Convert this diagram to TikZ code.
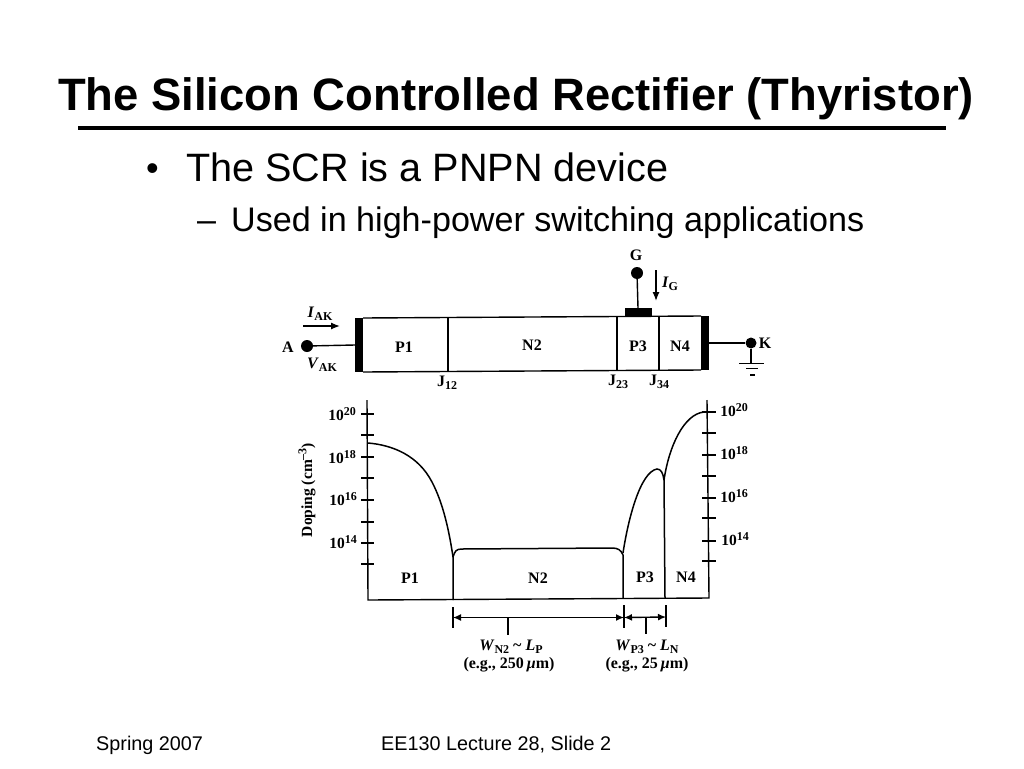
\documentclass[tikz,border=0pt]{standalone}
\usepackage{fontspec}
\setmainfont{Liberation Sans}
\newfontfamily\figfont{Liberation Serif}
\usetikzlibrary{arrows.meta}
\newcommand{\lowtxt}[1]{\raisebox{-0.45ex}{\fontsize{12}{13}\selectfont #1}}
\newcommand{\hightxt}[1]{\raisebox{0.8ex}{\fontsize{12}{13}\selectfont #1}}
\newcommand{\tenpow}[1]{10\hightxt{#1}}
\tikzset{
  titletext/.style={anchor=base,inner sep=0pt,font=\fontsize{45.4}{48}\selectfont\bfseries},
  bodytext/.style={anchor=base west,inner sep=0pt,font=\fontsize{39.6}{42}\selectfont},
  subtext/.style={anchor=base west,inner sep=0pt,font=\fontsize{34.1}{36}\selectfont},
  foottext/.style={anchor=base west,inner sep=0pt,font=\fontsize{19.8}{24}\selectfont},
  figtext/.style={inner sep=0pt,font=\figfont\bfseries\fontsize{16}{18}\selectfont},
  figsmall/.style={inner sep=0pt,font=\figfont\bfseries\fontsize{15.5}{18}\selectfont},
  fig/.style={line width=1.4pt,black},
  thin fig/.style={line width=1.1pt,black},
  curve/.style={line width=1.5pt,black},
  terminal/.style={circle,fill=black,inner sep=0pt,minimum size=12pt},
  sbar/.style={fill=black,draw=none},
  flow/.style={line width=1.3pt,-{Latex[length=9pt,width=7pt]}},
  dimline/.style={line width=1.4pt,{Latex[length=8pt,width=7pt]}-{Latex[length=8pt,width=7pt]}},
}
\begin{document}
\begin{tikzpicture}[x=1pt,y=-1pt]
\useasboundingbox (0,0) rectangle (1024,768);
% --- slide text
\node[titletext] (title) at (516,110) {The Silicon Controlled Rectifier (Thyristor)};
\coordinate (ruleL) at (78,128); \coordinate (ruleR) at (946,128);
\draw[line width=4.5pt] (ruleL) -- (ruleR);
\node[bodytext,font=\fontsize{36}{38}\selectfont] (bullet) at (146,180) {•};
\node[bodytext] (b1) at (186,181) {The SCR is a PNPN device};
\node[subtext] (dash) at (197,231) {–};
\node[subtext] (b2) at (231,231) {Used in high-power switching applications};
\node[foottext] (f1) at (96,750) {Spring 2007};
\node[foottext] (f2) at (381,750) {EE130 Lecture 28, Slide 2};
% --- device
\fill[sbar] (355,318) rectangle (363,372);
\fill[sbar] (701,316) rectangle (709,370);
\fill[sbar] (625,308) rectangle (652,316);
\draw[fig] (363,318) -- (701,316);
\draw[fig] (363,372) -- (701,370);
\draw[fig] (448,318) -- (448,372);
\draw[fig] (617,316) -- (617,370);
\draw[fig] (659,316) -- (659,370);
\node[terminal] (A) at (307,346) {};
\node[terminal] (G) at (637,273) {};
\node[terminal,minimum size=11pt] (K) at (751,343) {};
\coordinate (Abar) at (355,345); \coordinate (Kbar) at (709,343); \coordinate (Gpad) at (638,308);
\draw[fig] (A) -- (Abar);
\draw[fig] (G) -- (Gpad);
\draw[fig] (Kbar) -- (K);
\coordinate (gnd) at (751,363);
\draw[fig] (K) -- (gnd);
\draw[fig] (739,363.5) -- (764,363.5);
\draw[thin fig] (746,368.5) -- (758,368.5);
\draw[thin fig] (750,375) -- (755,375);
\coordinate (iaks) at (303,326); \coordinate (iake) at (340,326);
\draw[flow] (iaks) -- (iake);
\coordinate (igs) at (656,270); \coordinate (ige) at (656,301);
\draw[flow] (igs) -- (ige);
\node[figtext] (lA) at (288,347) {A};
\node[figtext] (lK) at (765,343) {K};
\node[figtext] (lG) at (636,255) {G};
\node[figtext] (lIAK) at (320,314) {\textit{I}\lowtxt{AK}};
\node[figtext] (lVAK) at (322,365) {\textit{V}\lowtxt{AK}};
\node[figtext] (lIG) at (670,284) {\textit{I}\lowtxt{G}};
\node[figtext] (lP1) at (404,347) {P1};
\node[figtext] (lN2) at (532,345) {N2};
\node[figtext] (lP3) at (638,346) {P3};
\node[figtext] (lN4) at (680,346) {N4};
\node[figtext] (lJ12) at (447,383) {J\lowtxt{12}};
\node[figtext] (lJ23) at (618,382) {J\lowtxt{23}};
\node[figtext] (lJ34) at (659,382) {J\lowtxt{34}};
% --- doping axes
\draw[fig] (367,400) -- (368,600) -- (709,598) -- (707,400);
\foreach \yy in {414,435,457,478,500,522,543,564} \draw[fig] (361,\yy) -- (374,\yy);
\foreach \yy in {412,433,455,476,498,518,541,561} \draw[fig] (702,\yy) -- (716,\yy);
\node[figsmall] (l20) at (342,414) {\tenpow{20}};
\node[figsmall] (l18) at (342,457) {\tenpow{18}};
\node[figsmall] (l16) at (343,499) {\tenpow{16}};
\node[figsmall] (l14) at (343,542) {\tenpow{14}};
\node[figsmall] (r20) at (734,410) {\tenpow{20}};
\node[figsmall] (r18) at (734,453) {\tenpow{18}};
\node[figsmall] (r16) at (734,496) {\tenpow{16}};
\node[figsmall] (r14) at (735,539) {\tenpow{14}};
\node[figsmall,rotate=90] (ylab) at (307,490) {Doping (cm\hightxt{–3})};
% --- doping curves
\draw[curve] (368,443) .. controls (392,445) and (418,455) .. (432,482)
  .. controls (443,503) and (449,530) .. (453,557) -- (453,600);
\draw[curve] (453,557) .. controls (455,551) and (456,549) .. (462,549) -- (612,548)
  .. controls (618,548) and (621,550) .. (623,555) -- (623,598);
\draw[curve] (623,553) .. controls (628,520) and (640,472) .. (657,469)
  .. controls (661,469) and (663,473) .. (664,480) -- (665,598);
\draw[curve] (664,480) .. controls (669,446) and (684,414) .. (704,412);
\node[figtext] (cP1) at (410,578) {P1};
\node[figtext] (cN2) at (538,578) {N2};
\node[figtext] (cP3) at (645,577) {P3};
\node[figtext] (cN4) at (686,577) {N4};
% --- dimensions
\coordinate (t1a) at (453,607); \coordinate (t1b) at (453,628);
\coordinate (t2a) at (624,605); \coordinate (t2b) at (624,628);
\coordinate (t3a) at (666,605); \coordinate (t3b) at (666,627);
\draw[fig] (t1a) -- (t1b);
\draw[fig] (t2a) -- (t2b);
\draw[fig] (t3a) -- (t3b);
\coordinate (d1) at (453,617.5); \coordinate (d2) at (624,617.5); \coordinate (d3) at (666,617);
\draw[dimline] (d1) -- (d2);
\draw[dimline] (d2) -- (d3);
\draw[thin fig] (508,617.5) -- (508,635);
\draw[thin fig] (646,617) -- (646,634);
\node[figtext] (w1) at (511,647) {\textit{W}\lowtxt{N2} \textasciitilde{} \textit{L}\lowtxt{P}};
\node[figtext] (e1) at (509,665) {(e.g., 250\,\textit{µ}m)};
\node[figtext] (w2) at (647,647) {\textit{W}\lowtxt{P3} \textasciitilde{} \textit{L}\lowtxt{N}};
\node[figtext] (e2) at (647,665) {(e.g., 25\,\textit{µ}m)};
\end{tikzpicture}
\end{document}
